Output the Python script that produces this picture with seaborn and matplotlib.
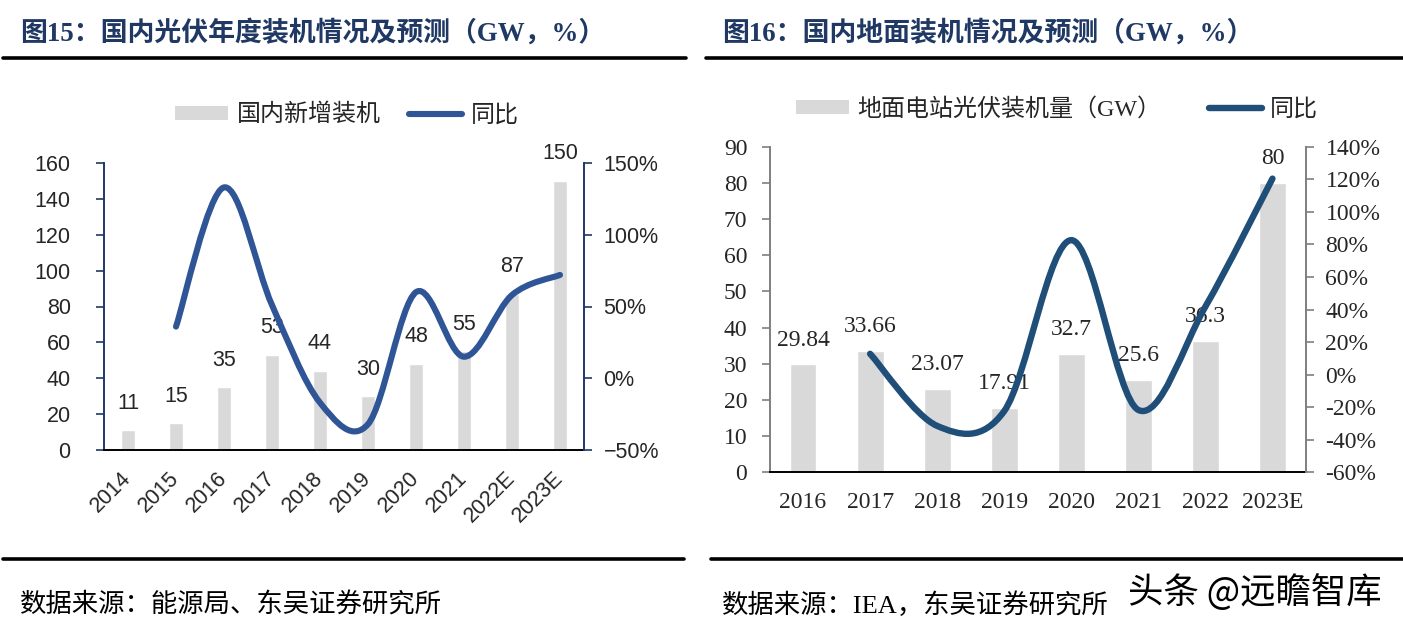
"""Two-panel PV installation chart (bars + smoothed YoY line on twin axis)."""

import matplotlib.pyplot as plt
import numpy as np
import seaborn as sns
from matplotlib.lines import Line2D
from matplotlib.patches import Patch, PathPatch
from matplotlib.path import Path

W, H = 1403, 626

# ---- data: figure 15 (national annual installs) ----
YEARS_15 = ["2014", "2015", "2016", "2017", "2018", "2019", "2020", "2021", "2022E", "2023E"]
INSTALL_15 = [11, 15, 35, 53, 44, 30, 48, 55, 87, 150]
YOY_15 = [36, 133, 51, -17, -32, 60, 15, 58, 72]  # from 2015 on, %

# ---- data: figure 16 (utility-scale installs) ----
YEARS_16 = ["2016", "2017", "2018", "2019", "2020", "2021", "2022", "2023E"]
INSTALL_16 = [29.84, 33.66, 23.07, 17.91, 32.7, 25.6, 36.3, 80]
YOY_16 = [12.8, -31.5, -22.4, 82.6, -21.7, 41.8, 120.4]  # from 2017 on, %

TITLE_15 = "图15：国内光伏年度装机情况及预测（GW，%）"
TITLE_16 = "图16：国内地面装机情况及预测（GW，%）"
SOURCE_15 = "数据来源：能源局、东吴证券研究所"
SOURCE_16 = "数据来源：IEA，东吴证券研究所"
LEGEND_15 = ["国内新增装机", "同比"]
LEGEND_16 = ["地面电站光伏装机量（GW）", "同比"]
WATERMARK = "头条 @远瞻智库"

BAR = "#D9D9D9"
LINE_15 = "#2F5597"
LINE_16 = "#1F4E79"
NAVY = "#1F3864"
CJK = ["Liberation Serif", "Noto Sans CJK SC"]


def smooth_path(xs, ys):
    """Excel-like smoothed line: cubic Bezier through every data point."""
    pts = np.column_stack([xs, ys]).astype(float)
    n = len(pts)
    verts, codes = [pts[0]], [Path.MOVETO]
    for i in range(n - 1):
        p0 = pts[i - 1] if i > 0 else pts[i]
        p1, p2 = pts[i], pts[i + 1]
        p3 = pts[i + 2] if i + 2 < n else pts[i + 1]
        verts += [p1 + (p2 - p0) / 6, p2 - (p3 - p1) / 6, p2]
        codes += [Path.CURVE4] * 3
    return Path(verts, codes)


def fx(x):
    return x / W


def fy(y):
    return 1 - y / H


def rule(fig, x0, x1, y):
    fig.add_artist(Line2D([fx(x0), fx(x1)], [fy(y), fy(y)],
                          transform=fig.transFigure, color="black", lw=2.6))


def panel_15(fig):
    ax = fig.add_axes([fx(104), fy(450), fx(480), 287 / H])
    sns.barplot(x=YEARS_15, y=INSTALL_15, color=BAR, saturation=1, width=0.31, ax=ax)
    ax.set_xlim(-0.5, len(YEARS_15) - 0.5)
    ax.set_ylim(0, 160)
    ax.set_yticks(range(0, 161, 20))
    num = dict(family="Liberation Sans", fontsize=15.5)
    ax.set_yticklabels([str(v) for v in range(0, 161, 20)], **num)
    ax.set_xticks(range(len(YEARS_15)))
    ax.set_xticklabels(YEARS_15, rotation=45, ha="right", va="center",
                       rotation_mode="anchor", **num)
    ax.set_xticks(np.arange(-0.5, len(YEARS_15)), minor=True)
    ax.tick_params(axis="x", which="major", length=0, pad=18)
    ax.tick_params(axis="x", which="minor", direction="in", length=6, color="black", width=1.2)
    ax.tick_params(axis="y", direction="out", length=6, color=NAVY, width=1.2, pad=18)
    for i, v in enumerate(INSTALL_15):
        ax.annotate(str(v), (i, v), xytext=(0, 19.5), textcoords="offset points",
                    ha="center", va="center", **num)
    ax.set_xlabel("")

    ax2 = ax.twinx()
    ax2.set_ylim(-50, 150)
    ax2.set_yticks([-50, 0, 50, 100, 150])
    ax2.set_yticklabels(["\u221250%", "0%", "50%", "100%", "150%"], **num)
    ax2.tick_params(axis="y", direction="out", length=6, color=NAVY, width=1.2, pad=8)
    xs = np.arange(1, len(YEARS_15))
    ax2.add_patch(PathPatch(smooth_path(xs, YOY_15), fill=False, edgecolor=LINE_15,
                            lw=4.4, capstyle="round", joinstyle="round"))

    for a in (ax, ax2):
        a.spines["top"].set_visible(False)
        a.spines["left"].set_color(NAVY)
        a.spines["right"].set_color(NAVY)
        a.spines["bottom"].set_color("black")
        for s in a.spines.values():
            s.set_linewidth(1.4)
    ax2.spines["left"].set_visible(False)
    ax.spines["right"].set_visible(False)
    ax2.spines["bottom"].set_visible(False)

    handles = [Patch(facecolor=BAR, edgecolor="none"), Line2D([], [], color=LINE_15, lw=4.4)]
    fig.legend(handles, LEGEND_15, loc="center", bbox_to_anchor=(fx(347), fy(115)),
               ncol=2, frameon=False, handlelength=2.2, handleheight=0.5,
               handletextpad=0.35, columnspacing=1.2,
               prop=dict(family=CJK, size=17.3))


def panel_16(fig):
    ax = fig.add_axes([fx(769.5), fy(472.3), fx(536.5), 325.6 / H])
    sns.barplot(x=YEARS_16, y=INSTALL_16, color=BAR, saturation=1, width=0.4, ax=ax)
    ax.set_xlim(-0.5, len(YEARS_16) - 0.5)
    ax.set_ylim(0, 90)
    num = dict(family="Liberation Serif", fontsize=17)
    ax.set_yticks(range(0, 91, 10))
    ax.set_yticklabels([str(v) for v in range(0, 91, 10)], **num)
    ax.set_xticks(range(len(YEARS_16)))
    ax.set_xticklabels(YEARS_16, **num)
    ax.set_xticks(np.arange(-0.5, len(YEARS_16)), minor=True)
    ax.tick_params(axis="x", which="major", length=0, pad=14)
    ax.tick_params(axis="x", which="minor", direction="out", length=7, color="black", width=1.2)
    ax.tick_params(axis="y", direction="out", length=6, color="#7F7F7F", width=1.2, pad=10)
    for i, v in enumerate(INSTALL_16):
        ax.annotate(f"{v:g}", (i, v), xytext=(0, 17.5), textcoords="offset points",
                    ha="center", va="center", **num)
    ax.set_xlabel("")

    ax2 = ax.twinx()
    ax2.set_ylim(-60, 140)
    ticks = list(range(-60, 141, 20))
    ax2.set_yticks(ticks)
    ax2.set_yticklabels([f"{t}%" for t in ticks], **num)
    ax2.tick_params(axis="y", direction="out", length=6, color="#7F7F7F", width=1.2, pad=8)
    xs = np.arange(1, len(YEARS_16))
    ax2.add_patch(PathPatch(smooth_path(xs, YOY_16), fill=False, edgecolor=LINE_16,
                            lw=4.6, capstyle="round", joinstyle="round"))

    for a in (ax, ax2):
        a.spines["top"].set_visible(False)
        a.spines["left"].set_color("#7F7F7F")
        a.spines["right"].set_color("#7F7F7F")
        a.spines["bottom"].set_color("black")
        for s in a.spines.values():
            s.set_linewidth(1.4)
    ax2.spines["left"].set_visible(False)
    ax.spines["right"].set_visible(False)
    ax2.spines["bottom"].set_visible(False)

    handles = [Patch(facecolor=BAR, edgecolor="none"), Line2D([], [], color=LINE_16, lw=4.6)]
    fig.legend(handles, LEGEND_16, loc="center", bbox_to_anchor=(fx(1057), fy(109)),
               ncol=2, frameon=False, handlelength=2.2, handleheight=0.5,
               handletextpad=0.35, columnspacing=2.0,
               prop=dict(family=CJK, size=17.3))


def main():
    sns.set_theme(style="white")
    plt.rcParams["font.family"] = CJK
    fig = plt.figure(figsize=(W / 100, H / 100), dpi=100)

    title = dict(family=CJK, fontsize=19.4, fontweight="bold", color=NAVY, va="center")
    fig.text(fx(20), fy(33), TITLE_15, **title)
    fig.text(fx(722), fy(33), TITLE_16, **title)
    rule(fig, 3, 686, 58)
    rule(fig, 706, 1403, 58)
    rule(fig, 3, 684, 559)
    rule(fig, 711, 1403, 559)

    panel_15(fig)
    panel_16(fig)

    src = dict(family=CJK, fontsize=19, color="black", va="center")
    fig.text(fx(20), fy(605), SOURCE_15, **src)
    fig.text(fx(722), fy(605), SOURCE_16, **src)
    fig.text(fx(1128), fy(593), WATERMARK, family=["Noto Sans CJK SC"], fontsize=25.5,
             color="black", va="center")

    fig.savefig("out.png", dpi=100)


if __name__ == "__main__":
    main()
